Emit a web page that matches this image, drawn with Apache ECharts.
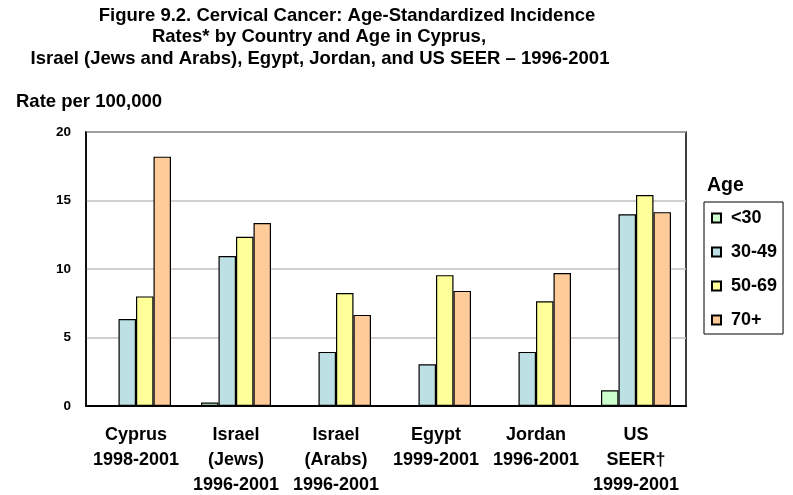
<!DOCTYPE html>
<html><head><meta charset="utf-8">
<script src="https://cdn.jsdelivr.net/npm/echarts@6/dist/echarts.min.js"></script>
<style>html,body{margin:0;padding:0;background:#fff}#c{width:793px;height:495px}</style>
</head><body><div id="c"></div>
<script>
const titleLines = ["Figure 9.2. Cervical Cancer: Age-Standardized Incidence", "Rates* by Country and Age in Cyprus,", "Israel (Jews and Arabs), Egypt, Jordan, and US SEER – 1996-2001"];
const categories = ["Cyprus\n1998-2001", "Israel\n(Jews)\n1996-2001", "Israel\n(Arabs)\n1996-2001", "Egypt\n1999-2001", "Jordan\n1996-2001", "US\nSEER†\n1999-2001"];
const seriesNames = ["<30", "30-49", "50-69", "70+"];
const under30 = [null, 0.25, null, null, null, 1.15];
const age30_49 = [6.35, 10.95, 3.95, 3.05, 3.95, 14.0];
const age50_69 = [8.0, 12.35, 8.25, 9.55, 7.65, 15.4];
const age70plus = [18.2, 13.35, 6.65, 8.4, 9.7, 14.15];
const yTicks = [0, 5, 10, 15, 20];
const colors = ["#CCFFCC", "#BCE0E3", "#FFFF99", "#FFCC99"];

const font = "Liberation Sans, Arial, sans-serif";
const values = [under30, age30_49, age50_69, age70plus];
const titlePos = [[347, 15.5], [319, 36.5], [320, 58.5]];
const chart = echarts.init(document.getElementById('c'), null, {renderer: 'canvas'});
chart.setOption({
  animation: false,
  backgroundColor: '#fff',
  textStyle: {fontFamily: font},
  grid: {left: 86, right: 107, top: 132, bottom: 89, outerBoundsMode: 'none', containLabel: false, show: true, borderColor: '#000', borderWidth: 1.5, backgroundColor: 'transparent'},
  legend: {
    orient: 'vertical', left: 704, top: 202,
    data: seriesNames,
    icon: 'rect', itemWidth: 9, itemHeight: 9, itemGap: 16,
    borderColor: '#000', borderWidth: 1, padding: [7, 6, 5, 7],
    textStyle: {fontFamily: font, fontSize: 18, fontWeight: 'bold', color: '#000', lineHeight: 18, padding: [0, 0, 0, 5]}
  },
  graphic: titleLines.map((t, i) => ({
    type: 'text', x: titlePos[i][0], y: titlePos[i][1],
    style: {text: t, font: 'bold 18.5px ' + font, fill: '#000', align: 'center', verticalAlign: 'middle'}
  })).concat([
    {type: 'text', x: 16, y: 102, style: {text: 'Rate per 100,000', font: 'bold 18.5px ' + font, fill: '#000', verticalAlign: 'middle'}},
    {type: 'text', x: 707, y: 186, style: {text: 'Age', font: 'bold 19.5px ' + font, fill: '#000', verticalAlign: 'middle'}}
  ]),
  xAxis: {
    type: 'category', data: categories,
    axisLine: {lineStyle: {color: '#000', width: 2}},
    axisTick: {show: false},
    axisLabel: {fontFamily: font, fontSize: 18, fontWeight: 'bold', color: '#000', lineHeight: 25, margin: 17, interval: 0}
  },
  yAxis: {
    type: 'value', min: yTicks[0], max: yTicks[yTicks.length - 1], interval: 5,
    axisLine: {show: true, lineStyle: {color: '#000', width: 1.5}},
    axisTick: {show: false},
    splitLine: {lineStyle: {color: '#C0C0C0', width: 1.5}},
    axisLabel: {fontFamily: font, fontSize: 13.5, fontWeight: 'bold', color: '#000', margin: 15}
  },
  series: seriesNames.map((n, i) => ({
    name: n, type: 'bar', data: values[i],
    barWidth: 17.5, barGap: '0%',
    itemStyle: {color: colors[i], borderColor: '#000', borderWidth: 1.2}
  }))
});
</script></body></html>
